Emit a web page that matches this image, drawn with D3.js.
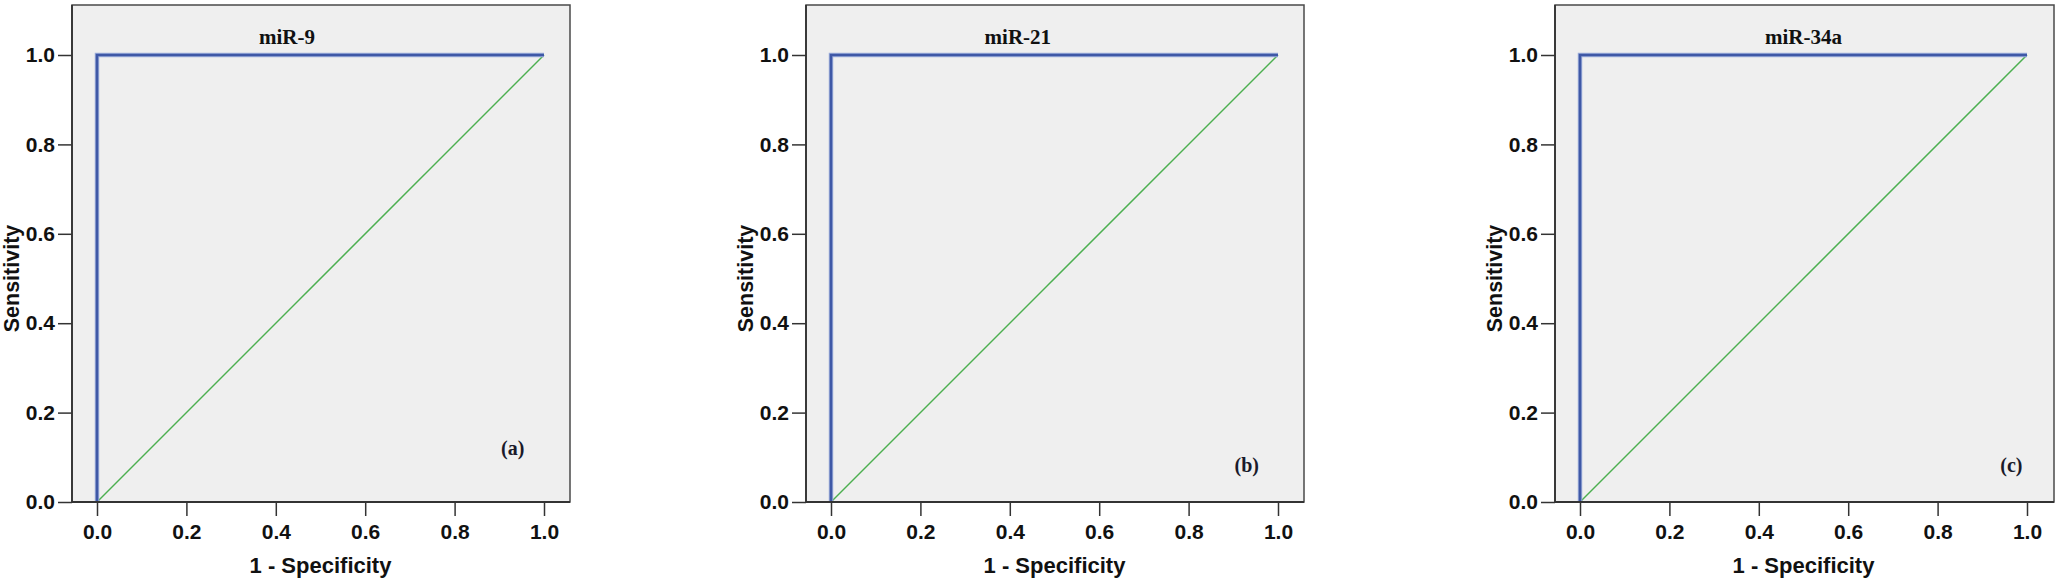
<!DOCTYPE html>
<html>
<head>
<meta charset="utf-8">
<script src="https://cdn.jsdelivr.net/npm/d3@7"></script>
<style>
body { margin: 0; background: #fff; }
svg { display: block; }
.tick text { font-family: "Liberation Sans", Arial, sans-serif; font-weight: bold; font-size: 21px; fill: #111; }
.tick line { stroke: #333; stroke-width: 1.5; }
</style>
</head>
<body>
<script>
// data
const titles = ['miR-9', 'miR-21', 'miR-34a'];
const panelTags = ['(a)', '(b)', '(c)'];
const rocX = [[0, 0, 1], [0, 0, 1], [0, 0, 1]];
const rocY = [[0, 1, 1], [0, 1, 1], [0, 1, 1]];
const refX = [0, 1];
const refY = [0, 1];
const tickVals = [0, 0.2, 0.4, 0.6, 0.8, 1.0];

// layout
const panelLeft = [72, 806, 1555];
const panelW = [498, 498, 499];
const titlePos = [0.425, 0.418, 0.5];
const tagPos = [[0.93, 0.12], [0.93, 0.083], [0.965, 0.083]];
const frameTop = 5, frameBottom = 502;

const svg = d3.select(document.body)
    .append('svg')
    .attr('width', 2056)
    .attr('height', 584);

const y = d3.scaleLinear().domain([0, 1]).range([502, 55]);

titles.forEach(function(t, p){
    const left = panelLeft[p];
    const x = d3.scaleLinear().domain([0, 1]).range([left + 25, left + 25 + 447]);
    const g = svg.append('g');

    g.append('rect')
        .attr('x', left)
        .attr('y', frameTop)
        .attr('width', panelW[p])
        .attr('height', frameBottom - frameTop)
        .attr('fill', '#efefef')
        .attr('stroke', '#4a4a4a')
        .attr('stroke-width', 1.5);

    // reference diagonal
    const line = d3.line()
        .x(function(d){ return x(d[0]); })
        .y(function(d){ return y(d[1]); });
    g.append('path')
        .attr('d', line(d3.zip(refX, refY)))
        .attr('fill', 'none')
        .attr('stroke', '#4caf50')
        .attr('stroke-width', 1.5);

    // roc curve
    g.append('path')
        .attr('d', line(d3.zip(rocX[p], rocY[p])))
        .attr('fill', 'none')
        .attr('stroke', '#9fb0dc')
        .attr('stroke-width', 4.5);
    g.append('path')
        .attr('d', line(d3.zip(rocX[p], rocY[p])))
        .attr('fill', 'none')
        .attr('stroke', '#3f58a6')
        .attr('stroke-width', 2.6);

    // axes
    const yAxis = d3.axisLeft(y)
        .tickValues(tickVals)
        .tickFormat(d3.format('.1f'))
        .tickSize(14)
        .tickPadding(3);
    g.append('g')
        .attr('transform', `translate(${left},0)`)
        .call(yAxis)
        .call(function(s){ s.select('.domain').remove(); });

    const xAxis = d3.axisBottom(x)
        .tickValues(tickVals)
        .tickFormat(d3.format('.1f'))
        .tickSize(14)
        .tickPadding(8);
    g.append('g')
        .attr('transform', `translate(0,${frameBottom})`)
        .call(xAxis)
        .call(function(s){ s.select('.domain').remove(); });

    // frame again on top so the axis line is crisp
    g.append('line')
        .attr('x1', left).attr('x2', left + panelW[p])
        .attr('y1', frameBottom).attr('y2', frameBottom)
        .attr('stroke', '#333').attr('stroke-width', 1.8);
    g.append('line')
        .attr('x1', left).attr('x2', left)
        .attr('y1', frameTop).attr('y2', frameBottom)
        .attr('stroke', '#333').attr('stroke-width', 1.8);

    // titles
    g.append('text')
        .attr('x', x(titlePos[p]))
        .attr('y', 44)
        .attr('text-anchor', 'middle')
        .attr('font-family', '"Liberation Serif", "Times New Roman", serif')
        .attr('font-weight', 'bold')
        .attr('font-size', 21)
        .attr('fill', '#111')
        .text(t);

    g.append('text')
        .attr('x', x(tagPos[p][0]))
        .attr('y', y(tagPos[p][1]) + 7)
        .attr('text-anchor', 'middle')
        .attr('font-family', '"Liberation Serif", "Times New Roman", serif')
        .attr('font-weight', 'bold')
        .attr('font-size', 20)
        .attr('fill', '#1a1a2a')
        .text(panelTags[p]);

    g.append('text')
        .attr('x', x(0.5))
        .attr('y', 573)
        .attr('text-anchor', 'middle')
        .attr('font-family', '"Liberation Sans", Arial, sans-serif')
        .attr('font-weight', 'bold')
        .attr('font-size', 22)
        .attr('fill', '#111')
        .text('1 - Specificity');

    g.append('text')
        .attr('transform', `translate(${left - 53},${y(0.5)}) rotate(-90)`)
        .attr('text-anchor', 'middle')
        .attr('font-family', '"Liberation Sans", Arial, sans-serif')
        .attr('font-weight', 'bold')
        .attr('font-size', 21.5)
        .attr('fill', '#111')
        .text('Sensitivity');
});
</script>
</body>
</html>
